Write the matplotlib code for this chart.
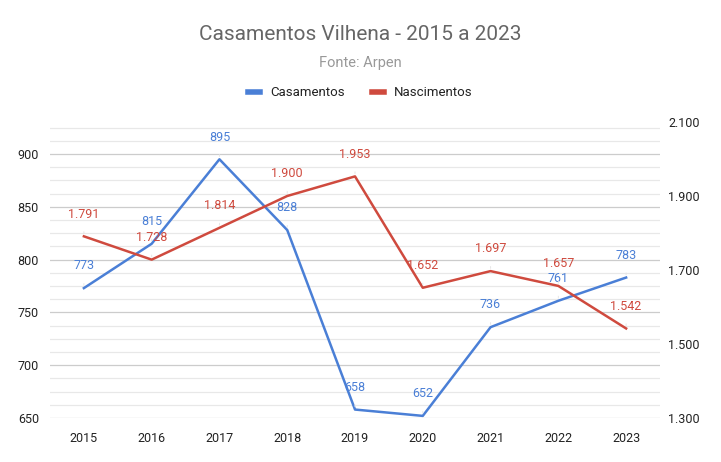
import numpy as np
import matplotlib.pyplot as plt
from matplotlib.ticker import MultipleLocator, FuncFormatter

plt.rcParams['font.family'] = ['Roboto', 'DejaVu Sans']

anos = ['2015', '2016', '2017', '2018', '2019', '2020', '2021', '2022', '2023']
casamentos = [773, 815, 895, 828, 658, 652, 736, 761, 783]
nascimentos = [1791, 1728, 1814, 1900, 1953, 1652, 1697, 1657, 1542]

azul = '#4a7fd6'
vermelho = '#cf4a3e'

fig = plt.figure(figsize=(7.21, 4.62), dpi=100)
ax = fig.add_axes([50/721, 1-418/462, 610/721, (418-122)/462])
ax2 = ax.twinx()

x = np.arange(len(anos))

# gridlines (left axis steps of 12.5)
for v in np.arange(650, 926, 12.5):
    if v % 50 == 0:
        ax.axhline(v, color='#cccccc', lw=0.9, zorder=0)
    else:
        ax.axhline(v, color='#e8e8e8', lw=0.9, zorder=0)

ax.plot(x, casamentos, color=azul, lw=1.8, zorder=3, label='Casamentos')
ax2.plot(x, nascimentos, color=vermelho, lw=1.8, zorder=3, label='Nascimentos')

# labels with faint leader lines
for i, v in enumerate(casamentos):
    ax.annotate(str(v), (x[i], v), xytext=(0, 16), textcoords='offset points',
                ha='center', va='center', color=azul, fontsize=9,
                arrowprops=dict(arrowstyle='-', color='#e6e6e6', lw=0.7,
                                shrinkA=6, shrinkB=2))
for i, v in enumerate(nascimentos):
    s = f'{v/1000:.3f}'
    ax2.annotate(s, (x[i], v), xytext=(0, 16), textcoords='offset points',
                 ha='center', va='center', color=vermelho, fontsize=9,
                 arrowprops=dict(arrowstyle='-', color='#e6e6e6', lw=0.7,
                                 shrinkA=6, shrinkB=2))

ax.set_xlim(-0.5, 8.5)
ax.set_ylim(650, 930.3)
ax2.set_ylim(1300, 2100)
ax.set_xticks(x)
ax.set_xticklabels(anos)
ax.yaxis.set_major_locator(MultipleLocator(50))
ax2.set_yticks([1300, 1500, 1700, 1900, 2100])
ax2.yaxis.set_major_formatter(FuncFormatter(lambda v, p: f'{v/1000:.3f}'))

for a in (ax, ax2):
    for sp in a.spines.values():
        sp.set_visible(False)
    a.tick_params(length=0, labelsize=9, colors='#222222')
ax.tick_params(axis='x', pad=10)
ax.tick_params(axis='y', pad=8)
ax2.tick_params(axis='y', pad=6)

fig.text(0.5, 1-35/462, 'Casamentos Vilhena - 2015 a 2023', ha='center', va='center',
         fontsize=15, color='#666666')
fig.text(0.5, 1-63/462, 'Fonte: Arpen', ha='center', va='center', fontsize=10.5, color='#999999')

h1, l1 = ax.get_legend_handles_labels()
h2, l2 = ax2.get_legend_handles_labels()
leg = fig.legend(h1 + h2, l1 + l2, loc='center', bbox_to_anchor=(0.5, 1-93/462), ncol=2,
                 frameon=False, fontsize=9.5, handlelength=0.9, handletextpad=0.8,
                 columnspacing=2.0)
for ln in leg.get_lines():
    ln.set_linewidth(4)
for t in leg.get_texts():
    t.set_color('#222222')

fig.savefig('out.png', dpi=100)
